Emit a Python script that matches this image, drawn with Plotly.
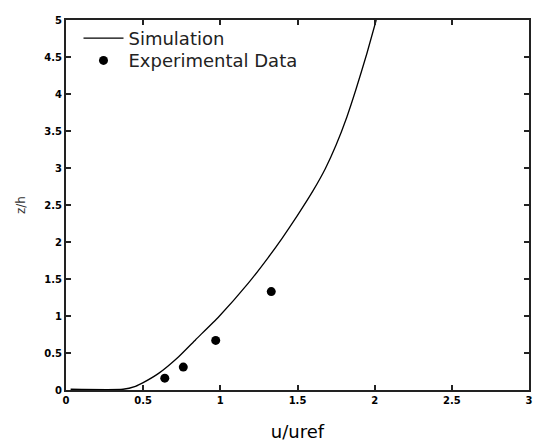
import plotly.graph_objects as go

# Simulated velocity profile (u/uref vs z/h)
sim_u = [0.03, 0.37, 0.45, 0.50, 0.60, 0.73, 0.84, 0.99, 1.18, 1.31, 1.40,
         1.50, 1.60, 1.68, 1.75, 1.82, 1.88, 1.95, 2.01]
sim_z = [0.01, 0.01, 0.05, 0.10, 0.225, 0.45, 0.68, 0.99, 1.44, 1.79, 2.05,
         2.36, 2.69, 2.99, 3.31, 3.69, 4.07, 4.55, 5.0]

# Measured points
exp_u = [0.64, 0.76, 0.97, 1.33]
exp_z = [0.16, 0.31, 0.67, 1.33]

x_ticks = [0, 0.5, 1, 1.5, 2, 2.5, 3]
y_ticks = [0, 0.5, 1, 1.5, 2, 2.5, 3, 3.5, 4, 4.5, 5]

fig = go.Figure()
fig.add_trace(go.Scatter(
    x=sim_u, y=sim_z, mode="lines", name="Simulation", legend="legend",
    line=dict(color="black", width=1.3, shape="spline", smoothing=0.5),
))
fig.add_trace(go.Scatter(
    x=exp_u, y=exp_z, mode="markers", name="Experimental Data", legend="legend2",
    marker=dict(color="black", size=9, symbol="circle"),
))

axis_common = dict(
    showgrid=False, zeroline=False, showline=True, mirror="ticks",
    linecolor="#222", linewidth=2, ticks="inside", ticklen=5,
    tickcolor="#222", tickwidth=1.5,
    tickfont=dict(family="DejaVu Sans", size=10, color="black", weight="bold"),
)

legend_common = dict(
    xanchor="left", yanchor="top", bgcolor="rgba(0,0,0,0)",
    font=dict(size=18, color="#222"), itemwidth=40,
)

fig.update_layout(
    width=535, height=445,
    margin=dict(l=66, r=2, t=20, b=55),
    paper_bgcolor="white", plot_bgcolor="white",
    font=dict(family="DejaVu Sans", color="black"),
    showlegend=True,
    legend=dict(x=0.027, y=1.0, **legend_common),
    legend2=dict(x=0.027, y=0.94, **legend_common),
    xaxis=dict(
        range=[0, 3], tickvals=x_ticks,
        ticktext=[f"{v:g}" for v in x_ticks],
        title=dict(text="u/uref", font=dict(size=18), standoff=20),
        **axis_common,
    ),
    yaxis=dict(
        range=[0, 5], tickvals=y_ticks,
        ticktext=[f"{v:g}" for v in y_ticks],
        title=dict(text="z/h", font=dict(size=12, color="#333"), standoff=16),
        **axis_common,
    ),
)

fig.write_html("out.html")
